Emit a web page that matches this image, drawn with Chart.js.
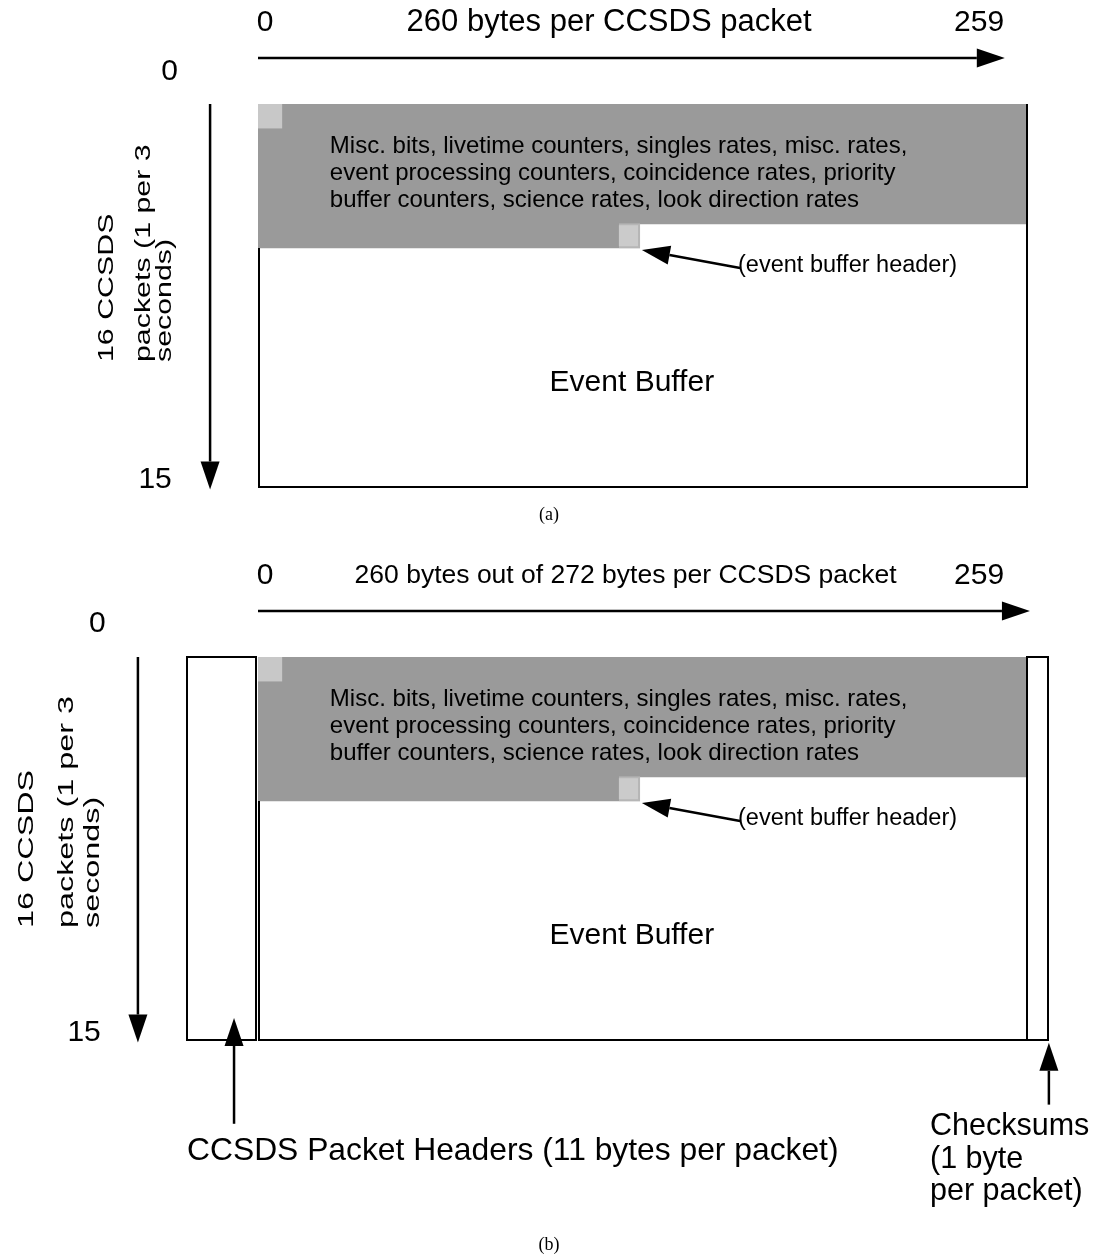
<!DOCTYPE html>
<html>
<head>
<meta charset="utf-8">
<title>CCSDS packet layout</title>
<script src="https://cdn.jsdelivr.net/npm/chart.js@4.4.1/dist/chart.umd.min.js"></script>
<style>
    body { margin: 0; background: #fff; width: 1095px; height: 1260px; position: relative; overflow: hidden; }
    canvas { position: absolute; left: 0; }
    #panel-a { top: 0; }
    #panel-b { top: 540px; }
</style>
</head>
<body>
<canvas id="panel-a" width="1095" height="540"></canvas>
<canvas id="panel-b" width="1095" height="720"></canvas>
<script>
// Dados do diagrama
const packetRows = ['0', '1', '2', '3', '4', '5', '6', '7', '8', '9', '10', '11', '12', '13', '14', '15'];
const bytesPerPacket = 260;
const byteTickLabels = ['0', '259'];
const packetTickLabels = ['0', '15'];

// bytes de housekeeping em cada pacote (linhas 0-5)
const housekeepingBytes = [260, 260, 260, 260, 260, 129, null, null, null, null, null, null, null, null, null, null];
// primeira célula do bloco (canto superior esquerdo)
const firstCell = [[0, 8], null, null, null, null, null, null, null, null, null, null, null, null, null, null, null];
// cabeçalho do buffer de eventos
const eventHeaderCell = [null, null, null, null, null, [122, 129], null, null, null, null, null, null, null, null, null, null];

const housekeepingText = [
    'Misc. bits, livetime counters, singles rates, misc. rates,',
    'event processing counters, coincidence rates, priority',
    'buffer counters, science rates, look direction rates'
];
const sideLabel = ['16 CCSDS', 'packets (1 per 3', 'seconds)'];
const headerLabel = 'CCSDS Packet Headers (11 bytes per packet)';
const checksumLabel = ['Checksums', '(1 byte', 'per packet)'];

const SANS = '"Liberation Sans", Arial, Helvetica, sans-serif';
const SERIF = '"Liberation Serif", "Times New Roman", serif';

// posições das anotações, em bytes / pacotes
const panels = {
    a: {
        title: '260 bytes per CCSDS packet', titleX: 118.7, titleSize: 31,
        arrowEnd: 252.5, tick0X: -29.9, tick15X: -34.8, tick0Row: -1.38, tick15Row: 15.66,
        vArrowX: -16.2, sideX: [-49.0, -36.5, -29.4], sideRow: 10.78, sideScale: 1.38,
        caption: '(a)', captionRow: 17.17
    },
    b: {
        title: '260 bytes out of 272 bytes per CCSDS packet', titleX: 124.3, titleSize: 26.5,
        arrowEnd: 261, tick0X: -54.3, tick15X: -58.8, tick0Row: -1.46, tick15Row: 15.65,
        vArrowX: -40.6, sideX: [-76.1, -62.5, -53.8], sideRow: 11.32, sideScale: 1.47,
        caption: '(b)', captionRow: 24.56,
        headerBox: [-24, -0.8], checksumBox: [260, 267.2]
    }
};

function drawArrow(ctx, x1, y1, x2, y2) {
    const ang = Math.atan2(y2 - y1, x2 - x1);
    const len = 28, half = 9.5;
    const bx = x2 - len * Math.cos(ang), by = y2 - len * Math.sin(ang);
    ctx.beginPath();
    ctx.moveTo(x1, y1);
    ctx.lineTo(bx, by);
    ctx.lineWidth = 2.5;
    ctx.stroke();
    ctx.beginPath();
    ctx.moveTo(x2, y2);
    ctx.lineTo(bx - half * Math.sin(ang), by + half * Math.cos(ang));
    ctx.lineTo(bx + half * Math.sin(ang), by - half * Math.cos(ang));
    ctx.closePath();
    ctx.fill();
}

function text(ctx, str, x, y, size, align, family) {
    ctx.font = size + 'px ' + (family || SANS);
    ctx.textAlign = align || 'left';
    ctx.textBaseline = 'middle';
    ctx.fillText(str, x, y);
}

const packetDiagram = {
    id: 'packetDiagram',
    afterDatasetsDraw(chart, args, opts) {
        const p = panels[opts.panel];
        const ctx = chart.ctx;
        const xs = chart.scales.x, ys = chart.scales.y;
        const px = b => Math.round(xs.getPixelForValue(b));
        const py = r => Math.round(ys.getPixelForValue(r - 0.5));
        const rowsUsed = housekeepingBytes.filter(v => v !== null).length;

        ctx.save();
        ctx.strokeStyle = '#000';
        ctx.fillStyle = '#000';
        ctx.lineWidth = 2;

        // contorno do buffer de eventos (abaixo da área cinza à esquerda)
        ctx.beginPath();
        ctx.moveTo(px(0) + 1, py(rowsUsed));
        ctx.lineTo(px(0) + 1, py(16));
        ctx.lineTo(px(bytesPerPacket), py(16));
        ctx.lineTo(px(bytesPerPacket), py(0));
        ctx.stroke();

        // colunas de cabeçalho e checksum (painel b)
        [p.headerBox, p.checksumBox].forEach(box => {
            if (!box) return;
            ctx.strokeRect(px(box[0]), py(0), px(box[1]) - px(box[0]), py(16) - py(0));
        });

        // texto dentro da área cinza
        housekeepingText.forEach((line, i) => {
            text(ctx, line, xs.getPixelForValue(24.3), ys.getPixelForValue([1.75, 2.88, 4.01][i] - 0.5), 24);
        });
        text(ctx, 'Event Buffer', xs.getPixelForValue(126.4), ys.getPixelForValue(11.15), 30, 'center');

        // seta do cabeçalho do buffer de eventos
        drawArrow(ctx, xs.getPixelForValue(163), ys.getPixelForValue(6.35),
            xs.getPixelForValue(129.8), ys.getPixelForValue(5.6));
        text(ctx, '(event buffer header)', xs.getPixelForValue(162.3), ys.getPixelForValue(6.23), 23.5);

        // eixo horizontal (bytes)
        const titleY = ys.getPixelForValue(-3.9);
        text(ctx, byteTickLabels[0], xs.getPixelForValue(2.4), titleY, 30, 'center');
        text(ctx, byteTickLabels[1], xs.getPixelForValue(243.8), titleY, 30, 'center');
        text(ctx, p.title, xs.getPixelForValue(p.titleX), titleY, p.titleSize, 'center');
        const hy = ys.getPixelForValue(-2.42);
        drawArrow(ctx, xs.getPixelForValue(0), hy, xs.getPixelForValue(p.arrowEnd), hy);

        // eixo vertical (pacotes)
        text(ctx, packetTickLabels[0], xs.getPixelForValue(p.tick0X), ys.getPixelForValue(p.tick0Row - 0.45), 30, 'center');
        text(ctx, packetTickLabels[1], xs.getPixelForValue(p.tick15X), ys.getPixelForValue(p.tick15Row - 0.45), 30, 'center');
        const vx = xs.getPixelForValue(p.vArrowX);
        drawArrow(ctx, vx, py(0), vx, ys.getPixelForValue(16.1 - 0.5));

        // rótulo vertical
        const sy = ys.getPixelForValue(p.sideRow - 0.5);
        sideLabel.forEach((line, i) => {
            ctx.save();
            ctx.translate(xs.getPixelForValue(p.sideX[i]), sy);
            ctx.rotate(-Math.PI / 2);
            ctx.scale(p.sideScale, 1);
            ctx.font = '22px ' + SANS;
            ctx.textAlign = 'left';
            ctx.textBaseline = 'alphabetic';
            ctx.fillText(line, 0, 0);
            ctx.restore();
        });

        // setas e textos de cabeçalho / checksum (painel b)
        if (p.headerBox) {
            const lx = xs.getPixelForValue(-8.1);
            drawArrow(ctx, lx, ys.getPixelForValue(19.0), lx, ys.getPixelForValue(14.58));
            const rx = xs.getPixelForValue(267.4);
            drawArrow(ctx, rx, ys.getPixelForValue(18.2), rx, ys.getPixelForValue(15.62));
            text(ctx, headerLabel, xs.getPixelForValue(-24), ys.getPixelForValue(20.15), 31.8);
            checksumLabel.forEach((line, i) => {
                text(ctx, line, xs.getPixelForValue(227.2), ys.getPixelForValue([19.13, 20.5, 21.84][i]), 30.5);
            });
        }

        // legenda (a) / (b)
        text(ctx, p.caption, xs.getPixelForValue(98.4), ys.getPixelForValue(p.captionRow - 0.5), 18, 'center', SERIF);
        ctx.restore();
    }
};

function makePanel(id, panel, padding) {
    return new Chart(document.getElementById(id), {
        type: 'bar',
        data: {
            labels: packetRows,
            datasets: [
                { data: firstCell, backgroundColor: '#c8c8c8' },
                { data: eventHeaderCell, backgroundColor: '#cbcbcb', borderColor: '#b6b6b6', borderWidth: 2 },
                { data: housekeepingBytes, backgroundColor: '#9a9a9a' }
            ]
        },
        options: {
            indexAxis: 'y',
            responsive: false,
            animation: false,
            events: [],
            layout: { padding },
            datasets: {
                bar: { grouped: false, barPercentage: 1, categoryPercentage: 1, inflateAmount: 0.5 }
            },
            scales: {
                x: { type: 'linear', min: 0, max: bytesPerPacket, display: false },
                y: { display: false }
            },
            plugins: {
                legend: { display: false },
                tooltip: { enabled: false },
                packetDiagram: { panel }
            }
        },
        plugins: [packetDiagram]
    });
}

makePanel('panel-a', 'a', { left: 258, right: 68, top: 104, bottom: 53 });
makePanel('panel-b', 'b', { left: 258, right: 68, top: 117, bottom: 220 });
</script>
</body>
</html>
